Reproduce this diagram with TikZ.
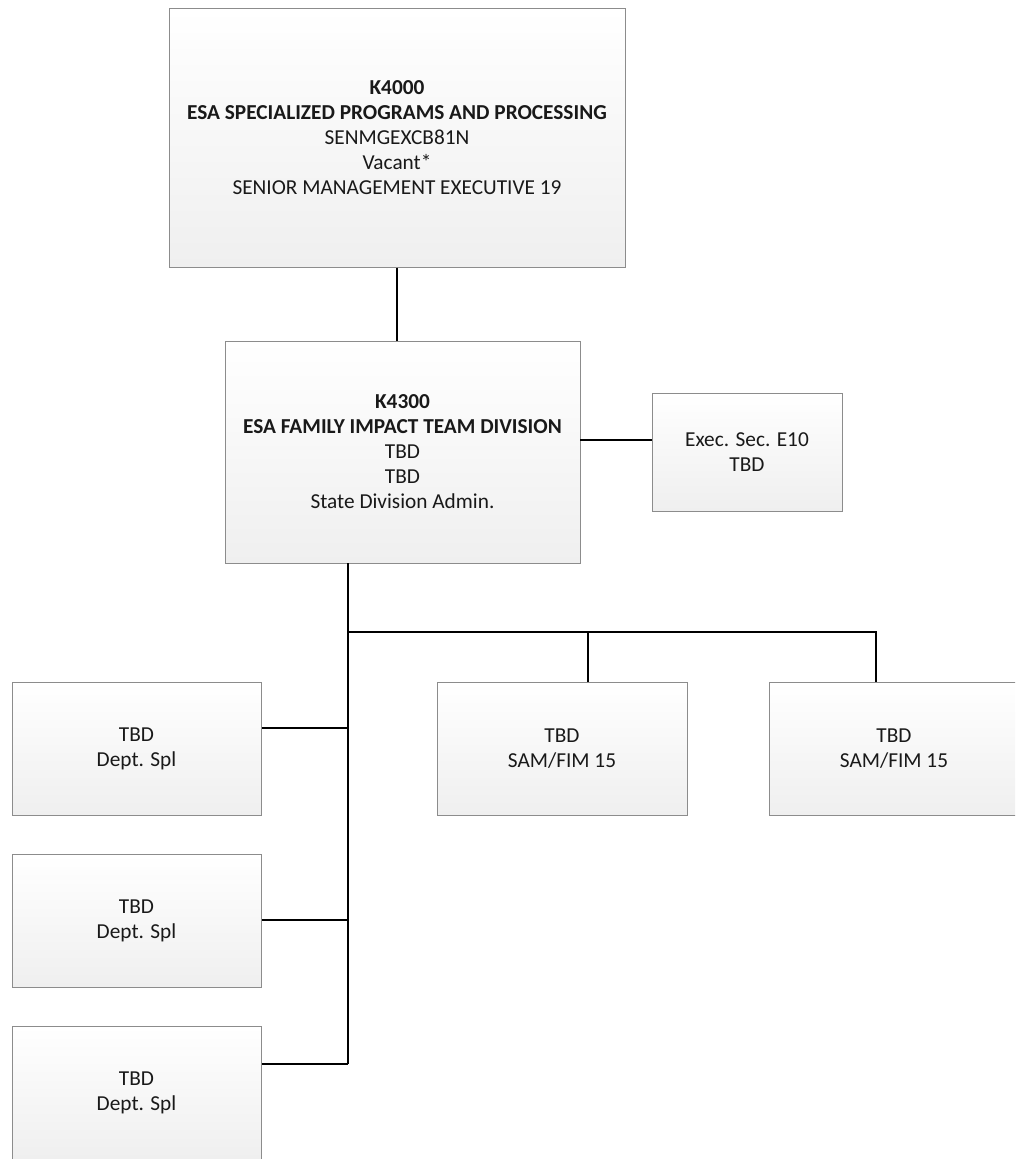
\documentclass[tikz,border=0pt]{standalone}
\usepackage{fontspec}
\setmainfont{Carlito}
\definecolor{boxgray}{HTML}{8C8C8C}
\definecolor{boxbot}{HTML}{EFEFEF}
\begin{document}
\begin{tikzpicture}[x=1pt,y=-1pt,
  box/.style={draw=boxgray, line width=1pt, top color=white, bottom color=boxbot,
    align=center, inner sep=0pt, text=black!90,
    font=\fontsize{21.3}{25}\selectfont},
  conn/.style={line width=2pt, black}]
\useasboundingbox (0,0) rectangle (1015,1159);
\clip (0,0) rectangle (1015,1159);
\node[box, minimum width=456, minimum height=259] (top) at (397,137.5)
  {\textbf{K4000}\\ \textbf{ESA SPECIALIZED PROGRAMS AND PROCESSING}\\ SENMGEXCB81N\\ Vacant*\\ SENIOR MANAGEMENT EXECUTIVE 19};
\node[box, minimum width=355, minimum height=222] (mid) at (402.5,452)
  {\textbf{K4300}\\ \textbf{ESA FAMILY IMPACT TEAM DIVISION}\\ TBD\\ TBD\\ State Division Admin.};
\node[box, minimum width=190, minimum height=118] (exec) at (747,452)
  {Exec. Sec. E10\\ TBD};
\node[box, minimum width=249, minimum height=133] (l1) at (136.5,748.5) {TBD\\ Dept. Spl};
\node[box, minimum width=249, minimum height=133] (l2) at (136.5,920.5) {TBD\\ Dept. Spl};
\node[box, minimum width=249, minimum height=133] (l3) at (136.5,1092.5) {TBD\\ Dept. Spl};
\node[box, minimum width=250, minimum height=133] (m1) at (562,748.5) {TBD\\ SAM/FIM 15};
\node[box, minimum width=250, minimum height=133] (r1) at (894,748.5) {TBD\\ SAM/FIM 15};

\coordinate (bustop) at (348,563);
\coordinate (busbot) at (348,1064);
\coordinate (busy) at (348,632);
\coordinate (busm) at (588,632);
\coordinate (busr) at (876,632);
\coordinate (j1) at (348,728);
\coordinate (j2) at (348,920);
\coordinate (j3) at (348,1064);
\coordinate (je) at (580,440);

\draw[conn] (top.south) -- (top.south |- mid.north);
\draw[conn] (je) -- (je -| exec.west);
\draw[conn] (bustop) -- (busbot);
\draw[conn] (busy) -- (busr) -- (busr |- r1.north);
\draw[conn] (busm) -- (busm |- m1.north);
\draw[conn] (j1) -- (j1 -| l1.east);
\draw[conn] (j2) -- (j2 -| l2.east);
\draw[conn] (j3) -- (j3 -| l3.east);
\end{tikzpicture}
\end{document}
